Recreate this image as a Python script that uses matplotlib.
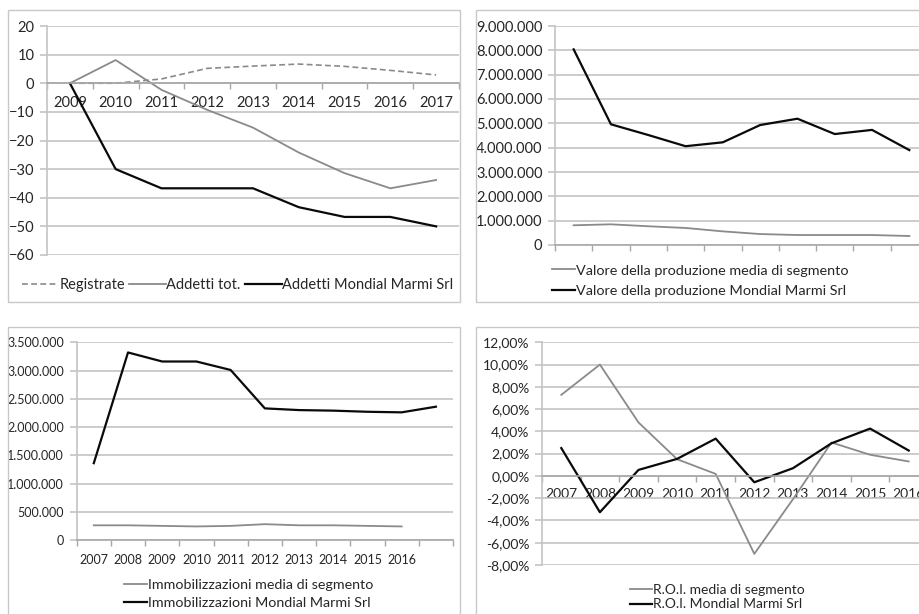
import numpy as np
import matplotlib
matplotlib.use("Agg")
import matplotlib.pyplot as plt
from matplotlib.patches import Rectangle
from matplotlib.ticker import FuncFormatter

# dati
anni_addetti = ['2009', '2010', '2011', '2012', '2013', '2014', '2015', '2016', '2017']
registrate = [0, 0, 1.5, 5.2, 6.0, 6.7, 5.9, 4.5, 2.9]
addetti_tot = [0, 8.1, -2.3, -9.3, -15.5, -24.2, -31.4, -36.7, -33.8]
addetti_mm = [0, -30, -36.7, -36.7, -36.7, -43.3, -46.7, -46.7, -50]

prod_media = [810000, 850000, 770000, 700000, 560000, 450000, 410000, 410000, 410000, 370000]
prod_mm = [8040000, 4960000, 4520000, 4060000, 4220000, 4930000, 5190000, 4560000, 4730000, 3900000]

anni_immob = ['2007', '2008', '2009', '2010', '2011', '2012', '2013', '2014', '2015', '2016', '']
immob_media = [260000, 260000, 250000, 240000, 250000, 280000, 260000, 260000, 250000, 240000, np.nan]
immob_mm = [1360000, 3320000, 3160000, 3160000, 3010000, 2330000, 2300000, 2290000, 2270000, 2260000, 2360000]

anni_roi = ['2007', '2008', '2009', '2010', '2011', '2012', '2013', '2014', '2015', '2016']
roi_media = [7.28, 10.0, 4.8, 1.5, 0.18, -7.0, -2.1, 3.0, 1.9, 1.3]
roi_mm = [2.5, -3.26, 0.54, 1.53, 3.35, -0.57, 0.69, 2.93, 4.25, 2.28]

plt.rcParams['font.family'] = ['Lato', 'DejaVu Sans']
GRIGIO = '#8a8a8a'
NERO = '#0a0a0a'
GRIGLIA = '#c4c4c4'
TESTO = '#262626'

W, H = 920, 614
fig = plt.figure(figsize=(W / 100, H / 100), dpi=100)


def assi_px(l, t, r, b):
    return fig.add_axes([l / W, 1 - b / H, (r - l) / W, (b - t) / H])


def cornice(l, t, r, b):
    fig.patches.append(Rectangle((l / W, 1 - b / H), (r - l) / W, (b - t) / H,
                                 transform=fig.transFigure, fill=False,
                                 edgecolor='#c8c8c8', linewidth=1.0))


def stile(ax, n, fs, labels=None, zero_axis=False):
    for s in ['top', 'right']:
        ax.spines[s].set_visible(False)
    ax.spines['left'].set_color(GRIGLIA)
    ax.spines['left'].set_linewidth(1.2)
    ax.spines['bottom'].set_color('#a8a8a8')
    ax.spines['bottom'].set_linewidth(1.2)
    if zero_axis:
        ax.spines['bottom'].set_position(('data', 0))
    ax.set_xlim(-0.5, n - 0.5)
    ax.set_xticks(np.arange(n + 1) - 0.5, minor=True)
    if labels is not None:
        ax.set_xticks(np.arange(n))
        ax.set_xticklabels(labels)
    else:
        ax.set_xticks([])
    ax.tick_params(axis='x', which='minor', length=4, color='#a8a8a8', width=1)
    ax.tick_params(axis='x', which='major', length=0, labelsize=fs, colors=TESTO, pad=9)
    ax.tick_params(axis='y', length=5, color=GRIGLIA, width=1.2, labelsize=fs,
                   colors=TESTO, pad=4)
    ax.yaxis.grid(True, color=GRIGLIA, linewidth=1.2)
    ax.set_axisbelow(True)
    ax.set_facecolor('none')


def fmt_it(v, pos):
    return f'{int(round(v)):,}'.replace(',', '.')


def fmt_pct(v, pos):
    return f'{v:.2f}%'.replace('.', ',')


# pannello 1: addetti
cornice(8, 10, 460.5, 302)
ax1 = assi_px(47, 26, 459, 255)
x1 = np.arange(len(anni_addetti))
l1, = ax1.plot(x1, registrate, color=GRIGIO, lw=1.2, dashes=(3.5, 2), label='Registrate')
l2, = ax1.plot(x1, addetti_tot, color=GRIGIO, lw=1.3, label='Addetti tot.')
l3, = ax1.plot(x1, addetti_mm, color=NERO, lw=1.6, label='Addetti Mondial Marmi Srl')
ax1.set_ylim(-60, 20)
ax1.set_yticks(np.arange(-60, 21, 10))
stile(ax1, len(anni_addetti), 10.5, anni_addetti, zero_axis=True)
ax1.legend(handles=[l1, l2, l3], loc='center left', bbox_to_anchor=(22 / W, 1 - 285 / H),
           bbox_transform=fig.transFigure, ncol=3, frameon=False, fontsize=10.5,
           handlelength=2.5, handletextpad=0.05, columnspacing=0.3, borderpad=0,
           borderaxespad=0, labelcolor=TESTO)

# pannello 2: valore della produzione
cornice(476, 10, 935, 302)
ax2 = assi_px(555, 26, 928, 245)
x2 = np.arange(len(prod_media))
m1, = ax2.plot(x2, prod_media, color=GRIGIO, lw=1.3, label='Valore della produzione media di segmento')
m2, = ax2.plot(x2, prod_mm, color=NERO, lw=1.6, label='Valore della produzione Mondial Marmi Srl')
ax2.set_ylim(0, 9000000)
ax2.set_yticks(np.arange(0, 9000001, 1000000))
ax2.yaxis.set_major_formatter(FuncFormatter(fmt_it))
stile(ax2, len(prod_media), 10.5)
ax2.legend(handles=[m1, m2], loc='center left', bbox_to_anchor=(552 / W, 1 - 280.5 / H),
           bbox_transform=fig.transFigure, frameon=False, fontsize=10.4,
           handlelength=1.6, handletextpad=0.05, labelspacing=0.55, borderpad=0,
           borderaxespad=0, labelcolor=TESTO)

# pannello 3: immobilizzazioni
cornice(8, 327, 460.5, 640)
ax3 = assi_px(76.7, 342.3, 453, 540)
x3 = np.arange(len(anni_immob))
i1, = ax3.plot(x3, immob_media, color=GRIGIO, lw=1.3, label='Immobilizzazioni media di segmento')
i2, = ax3.plot(x3, immob_mm, color=NERO, lw=1.6, label='Immobilizzazioni Mondial Marmi Srl')
ax3.set_ylim(0, 3500000)
ax3.set_yticks(np.arange(0, 3500001, 500000))
ax3.yaxis.set_major_formatter(FuncFormatter(fmt_it))
stile(ax3, len(anni_immob), 9, anni_immob)
ax3.tick_params(axis='x', which='major', pad=10)
ax3.legend(handles=[i1, i2], loc='center left', bbox_to_anchor=(124 / W, 1 - 594 / H),
           bbox_transform=fig.transFigure, frameon=False, fontsize=10.3,
           handlelength=1.6, handletextpad=0.05, labelspacing=0.4, borderpad=0,
           borderaxespad=0, labelcolor=TESTO)

# pannello 4: R.O.I.
cornice(476, 327, 935, 640)
ax4 = assi_px(542, 342.3, 928, 565)
x4 = np.arange(len(anni_roi))
r1, = ax4.plot(x4, roi_media, color=GRIGIO, lw=1.3, label='R.O.I. media di segmento')
r2, = ax4.plot(x4, roi_mm, color=NERO, lw=1.6, label='R.O.I. Mondial Marmi Srl')
ax4.set_ylim(-8, 12)
ax4.set_yticks(np.arange(-8, 13, 2))
ax4.yaxis.set_major_formatter(FuncFormatter(fmt_pct))
stile(ax4, len(anni_roi), 10, anni_roi, zero_axis=True)
ax4.legend(handles=[r1, r2], loc='center left', bbox_to_anchor=(630 / W, 1 - 597 / H),
           bbox_transform=fig.transFigure, frameon=False, fontsize=10,
           handlelength=1.6, handletextpad=0.05, labelspacing=0.2, borderpad=0,
           borderaxespad=0, labelcolor=TESTO)

fig.savefig('out.png', dpi=100, facecolor='white')
